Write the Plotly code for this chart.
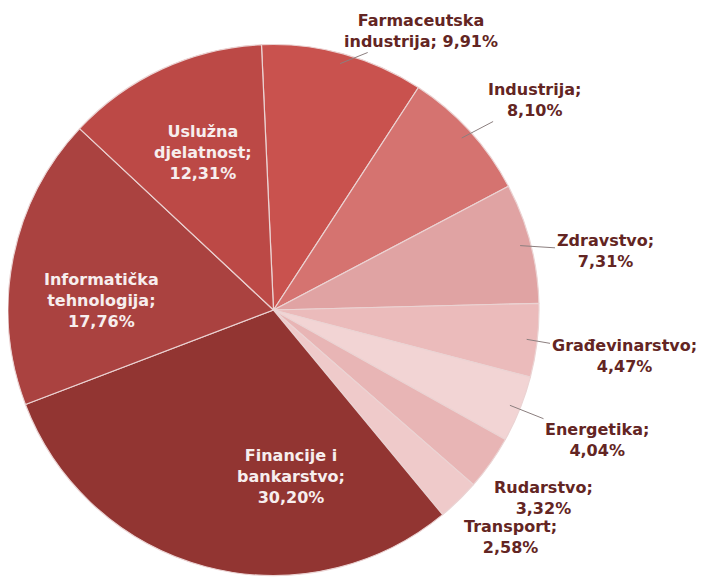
import math
import plotly.graph_objects as go

# ---- data ----
categories = ["Farmaceutska industrija", "Industrija", "Zdravstvo", "Građevinarstvo",
              "Energetika", "Rudarstvo", "Transport", "Financije i bankarstvo",
              "Informatička tehnologija", "Uslužna djelatnost"]
label_text = ["Farmaceutska<br>industrija; 9,91%", "Industrija;<br>8,10%", "Zdravstvo;<br>7,31%",
              "Građevinarstvo;<br>4,47%", "Energetika;<br>4,04%", "Rudarstvo;<br>3,32%",
              "Transport;<br>2,58%", "Financije i<br>bankarstvo;<br>30,20%",
              "Informatička<br>tehnologija;<br>17,76%", "Uslužna<br>djelatnost;<br>12,31%"]
values = [9.91, 8.10, 7.31, 4.47, 4.04, 3.32, 2.58, 30.20, 17.76, 12.31]
colors = ["#C9524E", "#D57370", "#E0A3A3", "#EBBBBB", "#F2D4D4", "#E8B5B5",
          "#EFCACA", "#923532", "#AA4240", "#BC4946"]
inside = [False, False, False, False, False, False, False, True, True, True]
leader = [True, True, True, True, True, False, False, False, False, False]
# label centres (page pixels) - layout
label_pos = [(421, 31), (534, 100), (605, 251), (624, 356), (597, 440), (543, 498),
             (510, 537), (291, 476), (101, 300), (203, 152)]

OFF = 8  # page body margin
W, H = 708 - OFF, 581 - OFF
r = 266
cx, cy = 273 - OFF, 310 - OFF
rotation = -2.6

fig = go.Figure(go.Pie(
    labels=categories, values=values, sort=False, direction="clockwise",
    rotation=rotation, textinfo="none", hoverinfo="label+percent",
    marker=dict(colors=colors, line=dict(color="#EBD3D3", width=1.2)),
    domain=dict(x=[max(0, (cx - r) / W), min(1, (cx + r) / W)],
                y=[max(0, 1 - (cy + r) / H), min(1, 1 - (cy - r) / H)]),
    showlegend=False,
))

total = sum(values)
annotations = []
acc = 0.0
for i, v in enumerate(values):
    mid = math.radians(rotation + 360 * (acc + v / 2) / total)
    acc += v
    tx, ty = label_pos[i][0] - OFF, label_pos[i][1] - OFF
    fcol = "#F7EEEE" if inside[i] else "#632523"
    font = dict(family="DejaVu Sans", size=16, color=fcol)
    if leader[i]:
        px = cx + 0.96 * r * math.sin(mid)
        py = cy - 0.96 * r * math.cos(mid)
        annotations.append(dict(
            x=px / W, y=1 - py / H, xref="paper", yref="paper",
            ax=tx - px, ay=ty - py, axref="pixel", ayref="pixel",
            text="<b>" + label_text[i] + "</b>", showarrow=True, arrowhead=0,
            arrowwidth=1, arrowcolor="#8C7F7F", font=font, align="center",
            standoff=0, startstandoff=0))
    else:
        annotations.append(dict(
            x=tx / W, y=1 - ty / H, xref="paper", yref="paper",
            text="<b>" + label_text[i] + "</b>", showarrow=False,
            font=font, align="center", xanchor="center", yanchor="middle"))

fig.update_layout(
    width=W, height=H, margin=dict(l=0, r=0, t=0, b=0),
    paper_bgcolor="white", plot_bgcolor="white",
    annotations=annotations,
)
fig.write_html("out.html")
